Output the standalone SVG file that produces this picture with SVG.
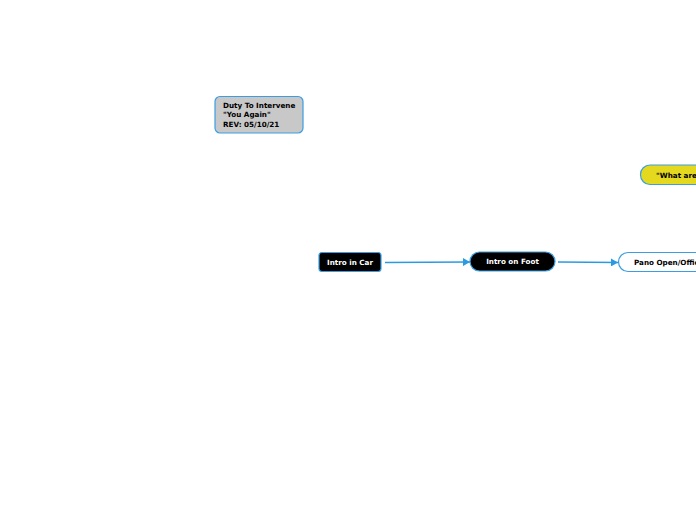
<svg xmlns="http://www.w3.org/2000/svg" width="696" height="520" viewBox="0 0 696 520">
<style>
.t{font-family:"DejaVu Sans",Verdana,sans-serif;font-weight:bold;font-size:7.2px}
.w{fill:#ffffff}
.k{fill:#000000}
.n{stroke:#3a9ee0;stroke-width:1.2}
.c{stroke:#2a9be0;stroke-width:1.3;fill:none}
</style>
<defs>
<marker id="a" markerWidth="8" markerHeight="8" refX="7" refY="4" orient="auto" markerUnits="userSpaceOnUse">
<path d="M0,0 L7,4 L0,8 Z" fill="#2a9be0"/>
</marker>
</defs>
<rect width="696" height="520" fill="#ffffff"/>
<g id="connectors">
<path class="c" d="M385,262.5 L470,262" marker-end="url(#a)"/>
<path class="c" d="M558,262 L618,262.5" marker-end="url(#a)"/>
</g>
<g id="duty">
<rect class="n" x="215" y="96.5" width="88" height="36.5" rx="5" fill="#c8c8c8"/>
<text class="t k" x="223" y="108">Duty To Intervene</text>
<text class="t k" x="223" y="117">"You Again"</text>
<text class="t k" x="223" y="126.5">REV: 05/10/21</text>
</g>
<g id="intro-car">
<rect class="n" x="319" y="252.5" width="62" height="19" rx="3" fill="#000000"/>
<text class="t w" x="350" y="264.5" text-anchor="middle">Intro in Car</text>
</g>
<g id="intro-foot">
<rect class="n" x="470" y="252" width="85" height="19" rx="9.5" fill="#000000"/>
<text class="t w" x="512.5" y="264" text-anchor="middle">Intro on Foot</text>
</g>
<g id="pano">
<rect class="n" x="618.5" y="252.5" width="100" height="19" rx="9.5" fill="#ffffff"/>
<text class="t k" x="634" y="265">Pano Open/Office</text>
</g>
<g id="what">
<rect class="n" x="640.5" y="165" width="100" height="19.5" rx="9.5" fill="#e5d920"/>
<text class="t k" x="656" y="177.5">"What are</text>
</g>
</svg>
